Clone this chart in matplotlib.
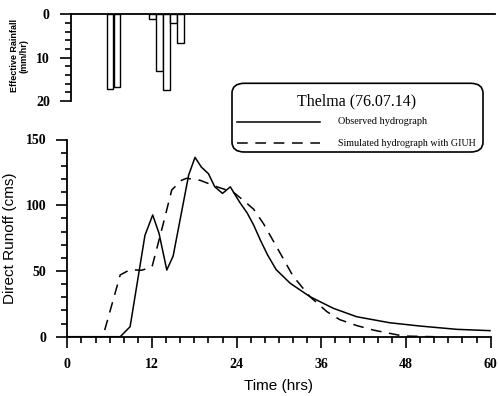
import numpy as np
import matplotlib
matplotlib.use("Agg")
import matplotlib.pyplot as plt
from matplotlib.patches import FancyBboxPatch
from matplotlib.lines import Line2D
from matplotlib.ticker import MultipleLocator

# effective rainfall (mm/hr), hyetograph
rain_hours = [6, 7, 12, 13, 14, 15, 16]
rain_depth = [17.3, 16.7, 1.0, 13.1, 17.5, 1.9, 6.7]

# observed hydrograph
obs_t = [0, 7.5, 8.9, 11.0, 12.1, 13.0, 14.1, 15.0, 17.2, 18.1, 19.0, 20.0,
         20.9, 22.0, 23.1, 24.0, 24.5, 25.5, 26.4, 27.4, 28.4, 29.6, 31.6,
         34.4, 37.7, 41.0, 45.7, 50.0, 55.2, 59.9]
obs_q = [0, 0, 7.6, 77, 92.6, 78.6, 50.7, 61.4, 123, 136.4, 129, 124,
         114, 109, 114, 106, 101.7, 94, 85, 73, 62, 51, 40.6,
         30.4, 21.6, 15.2, 10.6, 8.1, 5.6, 4.6]

# simulated hydrograph with GIUH
sim_t = [5.3, 7.5, 8.9, 10.5, 12.0, 13.6, 14.8, 16.2, 16.9, 18.8, 21.2,
         23.5, 24.9, 26.4, 27.8, 29.7, 32.0, 34.4, 36.8, 38.6, 41.0, 43.4,
         47.6, 52.0]
sim_q = [5, 47, 51, 50.5, 53, 86, 111.6, 119, 120.5, 119, 114,
         110, 104, 97, 86, 68, 46, 30.4, 19, 13, 8.5, 5,
         0.5, 0]

W, H = 498, 396
fig = plt.figure(figsize=(W / 100, H / 100), dpi=100)

serif = "Liberation Serif"
sans = "Liberation Sans"

# ---- rainfall axes (top) ----
axr = fig.add_axes([70.7 / W, 1 - 101 / H, (495 - 70.7) / W, (101 - 14.3) / H])
axr.bar([h - 0.9 for h in rain_hours], rain_depth, width=0.9, align="edge",
        facecolor="white", edgecolor="black", linewidth=1.0)
axr.set_xlim(0, 60)
axr.set_ylim(20, 0)
axr.spines["bottom"].set_visible(False)
axr.spines["right"].set_visible(False)
axr.spines["top"].set_linewidth(1.3)
axr.spines["left"].set_linewidth(1.3)
axr.set_xticks([])
axr.yaxis.set_major_locator(MultipleLocator(10))
axr.yaxis.set_minor_locator(MultipleLocator(2))
axr.tick_params(axis="y", which="major", length=8, width=1.2, pad=7)
axr.tick_params(axis="y", which="minor", length=4, width=1.2)
for lab in axr.get_yticklabels():
    lab.set_fontfamily(serif)
    lab.set_fontweight("bold")
    lab.set_fontsize(10)
fig.text(19 / W, 1 - 56 / H, "Effective Rainfall\n(mm/hr)", rotation=90,
         ha="center", va="center", fontsize=6.5, fontweight="bold",
         family=sans, linespacing=1.1)

# ---- runoff axes (bottom) ----
ax = fig.add_axes([67.3 / W, 1 - 336.7 / H, (490.7 - 67.3) / W, (336.7 - 139.5) / H])
ax.plot(obs_t, obs_q, color="black", linewidth=1.1)
ax.plot(sim_t, sim_q, color="black", linewidth=1.1, linestyle=(0, (7, 5)))
ax.set_xlim(0, 60)
ax.set_ylim(0, 150)
ax.spines["top"].set_visible(False)
ax.spines["right"].set_visible(False)
ax.spines["left"].set_linewidth(1.3)
ax.spines["bottom"].set_linewidth(1.3)
ax.xaxis.set_major_locator(MultipleLocator(12))
ax.xaxis.set_minor_locator(MultipleLocator(2))
ax.yaxis.set_major_locator(MultipleLocator(50))
ax.yaxis.set_minor_locator(MultipleLocator(10))
ax.tick_params(which="major", length=8, width=1.2, pad=7)
ax.tick_params(which="minor", length=4, width=1.2)
for lab in ax.get_xticklabels() + ax.get_yticklabels():
    lab.set_fontfamily(serif)
    lab.set_fontweight("bold")
    lab.set_fontsize(10)
ax.set_xlabel("Time (hrs)", fontsize=11, family=sans, labelpad=6)
ax.set_ylabel("Direct Runoff (cms)", fontsize=11, family=sans)
ax.yaxis.set_label_coords(-0.118, 0.5)

# ---- legend box ----
box = FancyBboxPatch((232 / W, 1 - 152 / H), (483 - 232) / W, (152 - 83.3) / H,
                     boxstyle="round,pad=0,rounding_size=0.025",
                     transform=fig.transFigure, facecolor="white",
                     edgecolor="black", linewidth=1.2)
fig.patches.append(box)
fig.text(357 / W, 1 - 101 / H, "Thelma (76.07.14)", ha="center", va="center",
         fontsize=11.5, family=serif)
fig.lines.append(Line2D([237 / W, 320 / W], [1 - 121.7 / H, 1 - 121.7 / H],
                        transform=fig.transFigure, color="black", linewidth=1.1))
fig.lines.append(Line2D([237 / W, 320 / W], [1 - 143 / H, 1 - 143 / H],
                        transform=fig.transFigure, color="black", linewidth=1.1,
                        linestyle=(0, (7, 5))))
fig.text(338 / W, 1 - 121 / H, "Observed hydrograph", ha="left", va="center",
         fontsize=7.4, family=serif)
fig.text(338 / W, 1 - 143 / H, "Simulated hydrograph with GIUH", ha="left",
         va="center", fontsize=7.2, family=serif)

fig.savefig("out.png", dpi=100)
